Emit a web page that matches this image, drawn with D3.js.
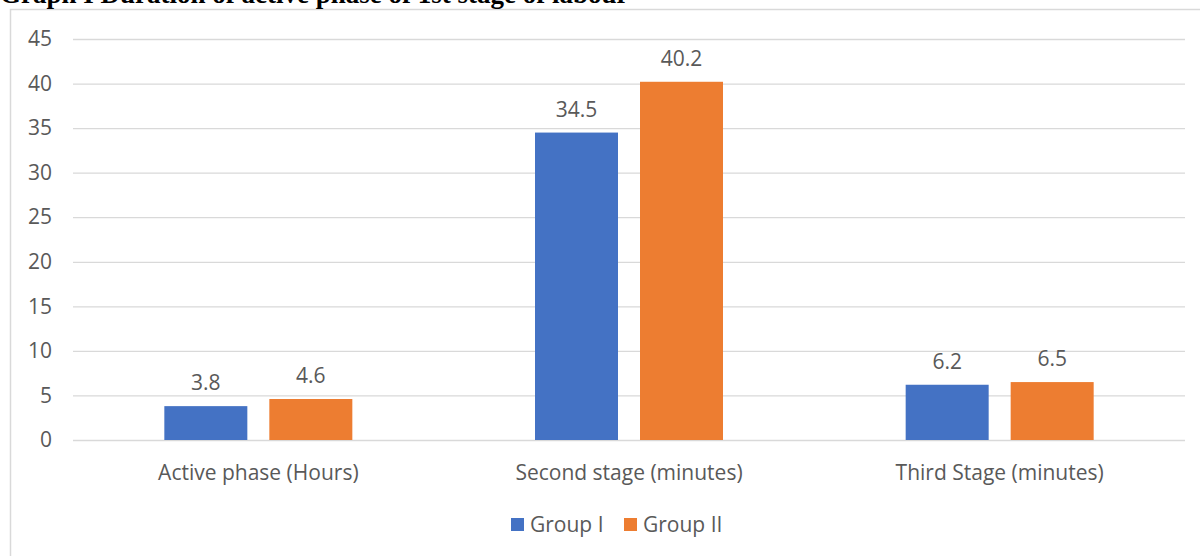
<!DOCTYPE html>
<html>
<head>
<meta charset="utf-8">
<script src="https://cdn.jsdelivr.net/npm/d3@7"></script>
<style>
  html, body { margin: 0; padding: 0; background: #fff; }
  svg { display: block; }
</style>
</head>
<body>
<svg id="chart" width="1200" height="556"></svg>
<script>
// Labour stage durations by group
const categories = ["Active phase (Hours)", "Second stage (minutes)", "Third Stage (minutes)"];
const seriesNames = ["Group I", "Group II"];
const groupI = [3.8, 34.5, 6.2];
const groupII = [4.6, 40.2, 6.5];
const yTicks = [0, 5, 10, 15, 20, 25, 30, 35, 40, 45];
const colors = ["#4472C4", "#ED7D31"];

const svg = d3.select("#chart");
const W = 1200, H = 556;
const plot = { left: 73, right: 1185, top: 39, bottom: 440 };
const textColor = "#595959";
const font = "'Open Sans', sans-serif";
const fs = 21;

// chart area frame
svg.append("rect")
  .attr("x", 10.5).attr("y", 9.5)
  .attr("width", W + 10).attr("height", H + 10)
  .attr("fill", "#fff").attr("stroke", "#d9d9d9").attr("stroke-width", 1.5);

// title, partly cut off at the top edge
svg.append("text")
  .attr("x", 0).attr("y", 3)
  .attr("font-family", "'Liberation Serif', 'Times New Roman', serif")
  .attr("font-weight", "bold")
  .attr("font-size", 27)
  .attr("fill", "#000")
  .text("Graph I Duration of active phase of 1st stage of labour");

const y = d3.scaleLinear().domain([0, 45]).range([plot.bottom, plot.top]);
const x0 = d3.scaleBand().domain(categories).range([plot.left, plot.right]);
const groupWidth = 188;
const x1 = d3.scaleBand().domain(seriesNames).range([0, groupWidth]).paddingInner(22 / 105);

// gridlines + y labels
const yAxis = d3.axisLeft(y).tickValues(yTicks).tickSize(-(plot.right - plot.left)).tickPadding(21);
const gy = svg.append("g").attr("transform", `translate(${plot.left},0)`).call(yAxis);
gy.select(".domain").remove();
gy.selectAll(".tick line").attr("stroke", "#d9d9d9").attr("stroke-width", 1.3);
gy.selectAll(".tick text")
  .attr("font-family", font).attr("font-size", fs).attr("fill", textColor)
  .attr("x", -21);

// x category labels
const xAxis = d3.axisBottom(x0).tickSize(0).tickPadding(25);
const gx = svg.append("g").attr("transform", `translate(0,${plot.bottom})`).call(xAxis);
gx.select(".domain").remove();
gx.selectAll(".tick text")
  .attr("font-family", font).attr("font-size", fs).attr("fill", textColor)
  .attr("dy", "0.71em");

// bars
const rows = categories.map((c, i) => ({ cat: c, vals: [groupI[i], groupII[i]] }));
const groups = svg.append("g").selectAll("g").data(rows).join("g")
  .attr("transform", d => `translate(${x0(d.cat) + x0.bandwidth() / 2 - groupWidth / 2},0)`);

groups.selectAll("rect").data(d => d.vals.map((v, j) => ({ s: seriesNames[j], v, j })))
  .join("rect")
  .attr("x", d => x1(d.s))
  .attr("width", x1.bandwidth())
  .attr("y", d => y(d.v))
  .attr("height", d => y(0) - y(d.v))
  .attr("fill", d => colors[d.j]);

groups.selectAll("text").data(d => d.vals.map((v, j) => ({ s: seriesNames[j], v, j })))
  .join("text")
  .attr("x", d => x1(d.s) + x1.bandwidth() / 2)
  .attr("y", d => y(d.v) - 16)
  .attr("text-anchor", "middle")
  .attr("font-family", font).attr("font-size", fs).attr("fill", textColor)
  .text(d => d3.format(".1f")(d.v));

// legend
const legend = svg.append("g").attr("transform", "translate(511,518)");
const legendX = [0, 113];
seriesNames.forEach((name, i) => {
  const g = legend.append("g").attr("transform", `translate(${legendX[i]},0)`);
  g.append("rect").attr("width", 13).attr("height", 13).attr("fill", colors[i]);
  g.append("text").attr("x", 19).attr("y", 14)
    .attr("font-family", font).attr("font-size", fs).attr("fill", textColor)
    .text(name);
});
</script>
</body>
</html>
